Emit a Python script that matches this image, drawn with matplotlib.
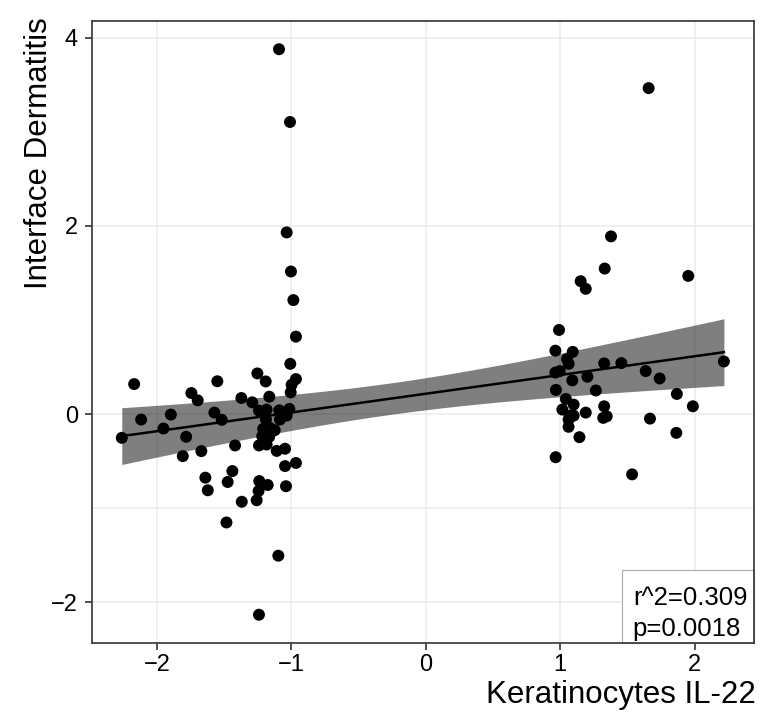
import numpy as np
import matplotlib
matplotlib.use("Agg")
import matplotlib.pyplot as plt
from matplotlib.patches import Rectangle

plt.rcParams["font.family"] = ["Liberation Sans", "DejaVu Sans"]

# Keratinocyte IL-22 score (x) and interface dermatitis score (y) per sample
il22 = [
    -2.263, -2.171, -2.119, -1.953, -1.898, -1.784, -1.809, -1.671, -1.745, -1.698,
    -1.641, -1.623, -1.574, -1.519, -1.552, -1.420, -1.440, -1.475, -1.370, -1.484,
    -1.373, -1.292, -1.254, -1.192, -1.165, -1.242, -1.185, -1.091, -1.016, -1.036,
    -1.190, -1.086, -1.211, -1.162, -1.125, -1.218, -1.166, -1.242, -1.185, -1.110,
    -1.048, -1.048, -0.967, -1.240, -1.177, -1.245, -1.259, -1.041, -1.098, -1.242,
    -1.093, -1.011, -1.036, -1.004, -0.986, -0.967, -1.009, -0.967, -0.999, -1.006,
    1.378, 1.331, 1.152, 1.190, 1.953, 1.658, 0.991, 0.964, 1.093, 1.051,
    1.063, 1.327, 1.455, 2.218, 0.964, 0.996, 1.202, 1.090, 1.636, 1.740,
    0.968, 1.265, 1.042, 1.868, 1.100, 1.016, 1.071, 1.100, 1.062, 1.062,
    1.190, 1.327, 1.320, 1.346, 1.987, 1.668, 1.864, 1.143, 0.966, 1.535,
]
dermatitis = [
    -0.251, 0.320, -0.057, -0.152, -0.004, -0.240, -0.445, -0.392, 0.225, 0.147,
    -0.674, -0.808, 0.017, -0.060, 0.350, -0.332, -0.604, -0.720, -0.930, -1.150,
    0.172, 0.126, 0.433, 0.348, 0.186, 0.038, 0.049, 0.041, 0.056, -0.015,
    -0.057, -0.057, -0.156, -0.145, -0.170, -0.234, -0.240, -0.332, -0.322, -0.390,
    -0.367, -0.551, -0.518, -0.710, -0.752, -0.815, -0.914, -0.765, -1.503, -2.130,
    3.877, 3.104, 1.931, 1.516, 1.212, 0.824, 0.535, 0.373, 0.313, 0.232,
    1.889, 1.547, 1.413, 1.332, 1.469, 3.464, 0.895, 0.675, 0.662, 0.585,
    0.535, 0.540, 0.543, 0.560, 0.442, 0.458, 0.398, 0.359, 0.458, 0.380,
    0.258, 0.252, 0.162, 0.215, 0.102, 0.049, -0.015, -0.015, -0.057, -0.134,
    0.017, 0.084, -0.039, -0.022, 0.084, -0.047, -0.198, -0.244, -0.457, -0.639,
]
x_ticks = [-2, -1, 0, 1, 2]
y_ticks = [-2, 0, 2, 4]
stats_lines = ["r^2=0.309", "p=0.0018"]

x = np.asarray(il22)
y = np.asarray(dermatitis)

# Least-squares fit with a 95% confidence band
n = len(x)
slope, intercept = np.polyfit(x, y, 1)
resid = y - (slope * x + intercept)
s = np.sqrt(np.sum(resid ** 2) / (n - 2))
sxx = np.sum((x - x.mean()) ** 2)
t_crit = 1.984
xs = np.linspace(x.min(), x.max(), 120)
fit = slope * xs + intercept
half = t_crit * s * np.sqrt(1.0 / n + (xs - x.mean()) ** 2 / sxx)

fig = plt.figure(figsize=(7.64, 7.15), dpi=100)
ax = fig.add_axes([0.120, 0.1007, 0.8669, 0.8700])

grid_c = "#EBEBEB"
for v in x_ticks:
    ax.axvline(v, color=grid_c, lw=1.1, zorder=0)
for v in y_ticks + [-1]:
    ax.axhline(v, color=grid_c, lw=1.1, zorder=0)

ax.fill_between(xs, fit - half, fit + half, color="black", alpha=0.5, lw=0, zorder=2)
ax.plot(xs, fit, color="black", lw=1.8, zorder=3)
ax.scatter(x, y, s=74, color="black", edgecolors="none", zorder=4)

xr = x.max() - x.min()
yr = y.max() - y.min()
ax.set_xlim(x.min() - 0.05 * xr, x.max() + 0.05 * xr)
ax.set_ylim(y.min() - 0.05 * yr, y.max() + 0.05 * yr)

ax.set_xticks(x_ticks)
ax.set_yticks(y_ticks)
ax.tick_params(axis="both", direction="out", length=5, width=1.2, color="#333333",
               labelsize=17, labelcolor="black")
ax.tick_params(axis="y", pad=5)
ax.tick_params(axis="x", pad=3)
for sp in ax.spines.values():
    sp.set_color("#333333")
    sp.set_linewidth(1.2)
    sp.set_zorder(6)

# Statistics box in the lower-right corner
ax.add_patch(Rectangle((0.8002, 0.0), 1 - 0.8002, 0.1174, transform=ax.transAxes,
                       facecolor="white", edgecolor="#AAAAAA", lw=0.8, zorder=5,
                       clip_on=False))
ax.text(0.8170, 0.0611, stats_lines[0], transform=ax.transAxes, fontsize=18.5,
        ha="left", va="baseline", zorder=7)
ax.text(0.8170, 0.0113, stats_lines[1], transform=ax.transAxes, fontsize=18.5,
        ha="left", va="baseline", zorder=7)

fig.text(0.9895, 0.0168, "Keratinocytes IL-22", fontsize=22.5, ha="right", va="baseline")
fig.text(0.0517, 0.976, "Interface Dermatitis", fontsize=22.5, rotation=90,
         ha="center", va="top")

fig.savefig("out.png", dpi=100)
